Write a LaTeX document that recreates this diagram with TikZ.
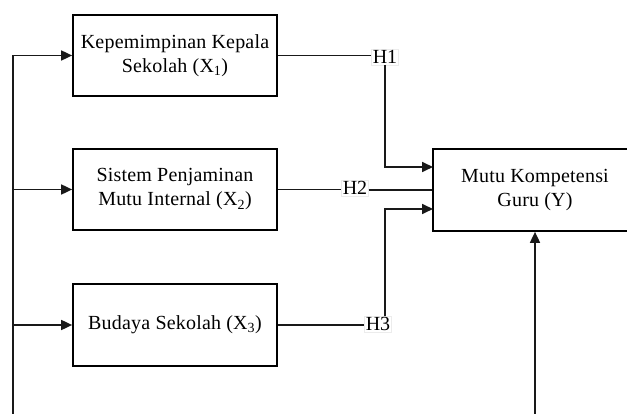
\documentclass[tikz,border=0pt]{standalone}
\usepackage{fontspec}
\setmainfont{Liberation Serif}
\usetikzlibrary{arrows.meta}
\begin{document}
\begin{tikzpicture}[x=1pt,y=-1pt,
  box/.style={draw=black,line width=1.7pt,minimum width=204pt,minimum height=81pt,
    align=center,inner sep=0pt,font=\fontsize{20}{24}\selectfont\addfontfeature{LetterSpace=1}},
  hlab/.style={fill=white,draw=gray!15,line width=0.4pt,inner sep=1.2pt,
    font=\fontsize{20}{22}\selectfont},
  con/.style={line width=1.7pt,draw=black!90},
  arr/.style={con,-{Triangle[length=11pt,width=10pt]}}]
\useasboundingbox (0,0) rectangle (627,414);
\clip (0,0) rectangle (627,414);
\node[box] (b1) at (175,55.5) {Kepemimpinan Kepala\\Sekolah (X\textsubscript{1})};
\node[box] (b2) at (175,189.5) {Sistem Penjaminan\\Mutu Internal (X\textsubscript{2})};
\node[box,minimum height=82pt] (b3) at (175,325) {Budaya Sekolah (X\textsubscript{3})};
\node[box,minimum height=82pt] (Y) at (535,190) {Mutu Kompetensi\\Guru (Y)};
\node[hlab] (H1) at (385,57) {H1};
\node[hlab] (H2) at (355,188) {H2};
\node[hlab] (H3) at (378,324) {H3};
\coordinate (s0) at (13,414);
\coordinate (j2) at (13,189.5);
\coordinate (j3) at (13,325);
\coordinate (y1) at (433,167);
\coordinate (y3) at (433,209);
\coordinate (yb) at (535,414);
% spine and arrows into X boxes
\draw[arr] (s0) |- (b1.west);
\draw[arr] (j2) -- (b2.west);
\draw[arr] (j3) -- (b3.west);
% H1
\draw[con] (b1.east) -- (b1.east -| H1.west);
\draw[arr] (H1.south) |- (y1);
% H2
\draw[con] (b2.east) -- (b2.east -| H2.west);
\draw[con] (H2.east |- Y.west) -- (Y.west);
% H3
\draw[con] (b3.east) -- (b3.east -| H3.west);
\draw[arr] (H3.north -| H1.south) |- (y3);
% bottom
\draw[arr] (yb) -- (Y.south);
\end{tikzpicture}
\end{document}
